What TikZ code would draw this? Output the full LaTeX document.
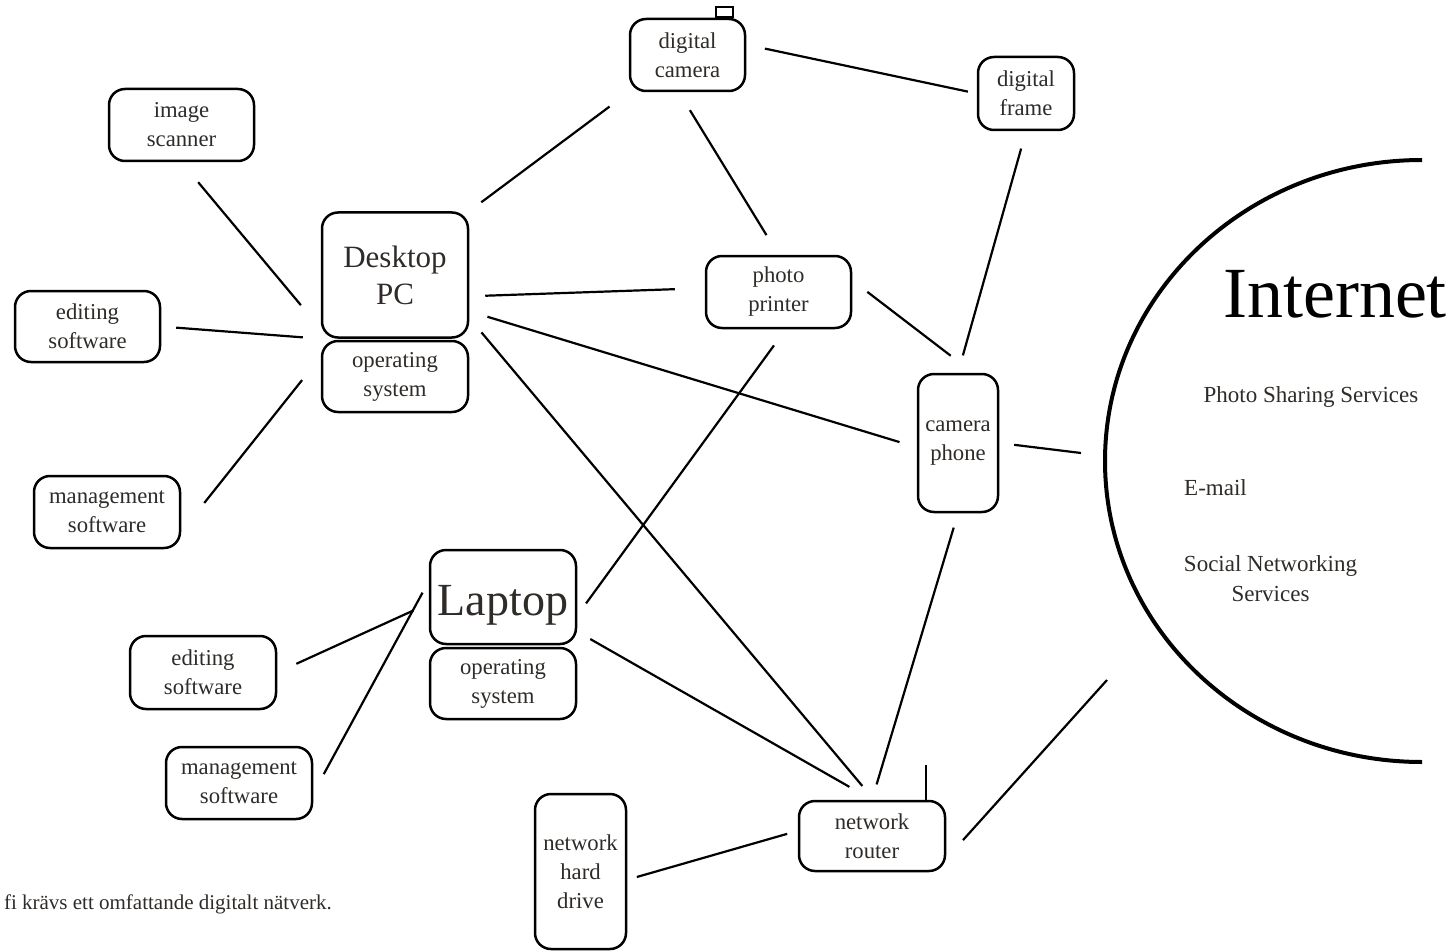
\documentclass[tikz,border=0pt]{standalone}
\usepackage{fontspec}
\setmainfont{Liberation Serif}
\usetikzlibrary{calc}
\definecolor{txt}{HTML}{2E2B28}
\begin{document}
\begin{tikzpicture}[x=1pt,y=-1pt,
  box/.style={draw, line width=2.5pt, rounded corners=16pt, inner sep=0pt, align=center, text=txt, font=\fontsize{22.7}{29}\selectfont},
  conn/.style={line width=2.2pt},
  plain/.style={inner sep=0pt, align=center, text=txt, font=\fontsize{23}{30}\selectfont}
]
\useasboundingbox (0,0) rectangle (1456,952);

% boxes
\node[box, minimum width=115pt, minimum height=72pt] (cam) at (687.5,55) {digital\\camera};
\node[box, minimum width=96pt, minimum height=73pt] (frame) at (1026,93.5) {digital\\frame};
\node[box, minimum width=145pt, minimum height=72pt] (scan) at (181.5,125) {image\\scanner};
\node[box, minimum width=146pt, minimum height=125pt, font=\fontsize{31}{37}\selectfont] (dpc) at (395,275) {Desktop\\PC};
\node[box, minimum width=146pt, minimum height=71pt] (os1) at (395,376.5) {operating\\system};
\node[box, minimum width=145pt, minimum height=71pt] (ed1) at (87.5,326.5) {editing\\software};
\node[box, minimum width=146pt, minimum height=72pt] (mg1) at (107,512) {management\\software};
\node[box, minimum width=145pt, minimum height=72pt] (pp) at (778.5,292) {photo\\printer};
\node[box, minimum width=80pt, minimum height=138pt] (cph) at (958,443) {camera\\phone};
\node[box, minimum width=146pt, minimum height=94pt, text height=36pt, text depth=0pt, font=\fontsize{46}{50}\selectfont] (lap) at (503,597) {Laptop};
\node[box, minimum width=146pt, minimum height=71pt] (os2) at (503,683.5) {operating\\system};
\node[box, minimum width=146pt, minimum height=73pt] (ed2) at (203,672.5) {editing\\software};
\node[box, minimum width=146pt, minimum height=72pt] (mg2) at (239,783) {management\\software};
\node[box, minimum width=146pt, minimum height=70pt] (rt) at (872,836) {network\\router};
\node[box, minimum width=91pt, minimum height=155pt] (hd) at (580.5,871.5) {network\\hard\\drive};

% antennas
\draw[line width=2.4pt] (716,17) rectangle (733,7);
\draw[line width=2.2pt] (926,800) -- (926,765);

% internet
\draw[line width=4pt] (1422,160) arc[start angle=270, end angle=90, x radius=317, y radius=301];
\node[inner sep=0pt, font=\fontsize{72}{80}\selectfont] (inet) at (1335,294) {Internet};
\node[plain] (pss) at (1311,397) {Photo Sharing Services};
\node[plain, anchor=west] (mail) at (1184,488) {E-mail};
\node[plain] (sns) at (1270.5,579) {Social Networking\\Services};
\coordinate (inetA) at (1081,453);
\coordinate (inetB) at (1107,680);

% caption
\node[inner sep=0pt, anchor=base east, text=txt, font=\fontsize{21}{24}\selectfont] (cap) at (332,909) {fi krävs ett omfattande digitalt nätverk.};

% connectors
\draw[conn, shorten <=15pt, shorten >=24pt] (dpc.north east) -- (cam.south west);
\draw[conn, shorten <=19pt, shorten >=9pt] (cam.10) -- (frame.west);
\draw[conn, shorten <=21pt, shorten >=23pt] (cam.-103) -- (pp.north);
\draw[conn, shorten <=16pt, shorten >=30pt] (dpc.-16) -- (pp.177);
\draw[conn, shorten <=19pt, shorten >=18pt] (dpc.-26) -- (cph.-174);
\draw[conn, shorten <=19pt, shorten >=18pt] (dpc.-30) -- (rt.87);
\draw[conn, shorten <=26pt, shorten >=31pt] (scan.south) -- (dpc.-144);
\draw[conn, shorten <=15pt, shorten >=18pt] (ed1.east) -- (dpc.south west);
\draw[conn, shorten <=37pt, shorten >=30pt] (mg1.-15) -- (os1.165.5);
\draw[conn, shorten <=19pt, shorten >=28pt] (pp.9) -- (cph.78.7);
\draw[conn, shorten <=18pt, shorten >=18pt] (frame.south) -- (cph.north);
\draw[conn, shorten <=15pt] (cph.east) -- (inetA);
\draw[conn, shorten <=20pt, shorten >=15pt] (pp.-79) -- (lap.-14.7);
\draw[conn, shorten <=15pt, shorten >=16pt] (cph.south) -- (rt.north);
\draw[conn, shorten <=15pt, shorten >=26pt] (lap.-25.7) -- (rt.north);
\draw[conn, shorten <=21pt, shorten >=17pt] (ed2.east) -- (lap.-175.4);
\draw[conn, shorten <=22pt, shorten >=13pt] (mg2.-8.3) -- (lap.168.6);
\draw[conn, shorten <=10pt, shorten >=11pt] (hd.-10.1) -- (rt.176.8);
\draw[conn, shorten <=25pt] (rt.-17.2) -- (inetB);
\end{tikzpicture}
\end{document}
